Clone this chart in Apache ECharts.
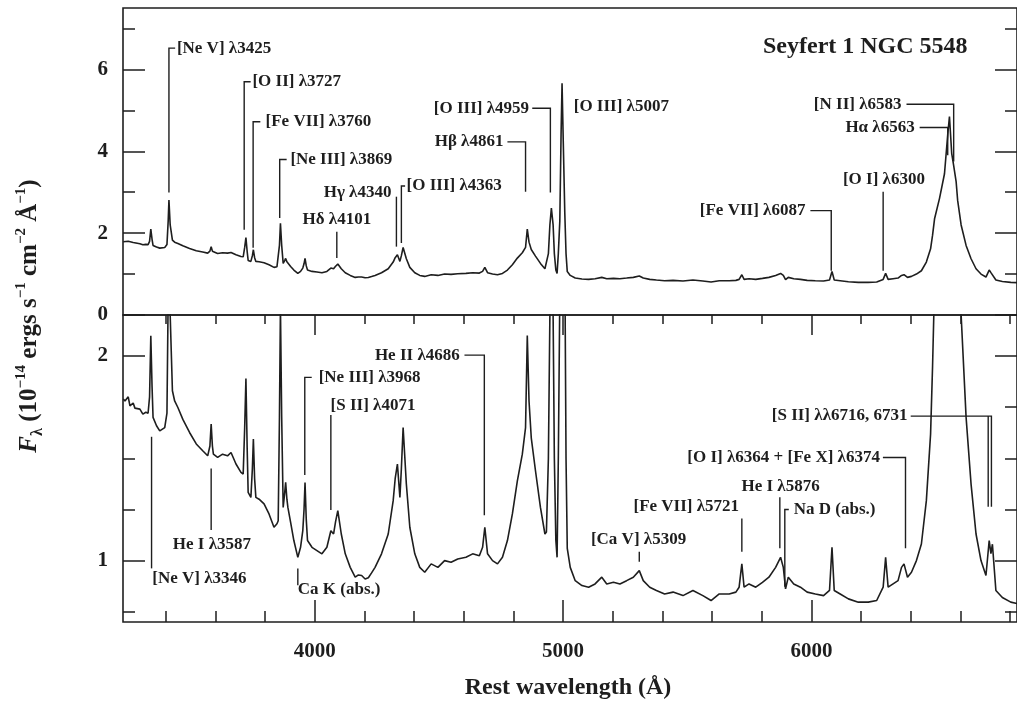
<!DOCTYPE html>
<html><head><meta charset="utf-8">
<script src="https://cdn.jsdelivr.net/npm/echarts@6/dist/echarts.min.js"></script>
<style>html,body{margin:0;padding:0;background:#fff}#c{width:1017px;height:703px}</style>
</head><body><div id="c"></div>
<script>
// Rest wavelength (Å) and F_lambda (1e-14 erg s^-1 cm^-2 Å^-1)
const wavelength = [
3229,3236,3249,3256,3269,3276,3296,3308,3320,3329,
3335,3340,3345,3349,3363,3376,3383,3396,3405,3410,
3413,3418,3427,3436,3449,3469,3496,3523,3549,3569,
3578,3583,3588,3592,3609,3629,3649,3663,3683,3703,
3712,3718,3723,3728,3732,3743,3749,3753,3758,3763,
3776,3796,3816,3836,3848,3853,3858,3862,3867,3873,
3879,3883,3888,3892,3903,3916,3932,3943,3952,3957,
3961,3966,3971,3989,4009,4029,4049,4065,4076,4084,
4093,4107,4123,4143,4163,4176,4189,4203,4216,4229,
4243,4269,4296,4316,4324,4333,4343,4349,4356,4369,
4383,4403,4423,4443,4469,4496,4523,4549,4576,4609,
4636,4663,4676,4685,4696,4716,4736,4756,4776,4796,
4816,4836,4849,4856,4863,4872,4889,4909,4927,4933,
4941,4947,4953,4960,4965,4971,4976,4981,4987,4992,
4996,5001,5007,5012,5017,5029,5049,5076,5103,5129,
5156,5176,5203,5229,5256,5283,5307,5323,5349,5376,
5409,5443,5483,5523,5563,5596,5629,5669,5696,5709,
5720,5729,5749,5776,5803,5829,5856,5876,5887,5896,
5907,5929,5956,5983,6016,6049,6073,6083,6092,6116,
6149,6189,6229,6263,6289,6299,6309,6329,6349,6363,
6373,6387,6403,6423,6443,6463,6480,6488,6496,6516,
6536,6549,6556,6565,6573,6583,6589,6603,6623,6643,
6663,6683,6703,6716,6723,6729,6743,6769,6803,6828];
const flux = [
1.79,1.78,1.80,1.756,1.77,1.745,1.74,1.716,1.725,1.72,
1.80,2.098,1.85,1.70,1.659,1.634,1.63,1.65,1.72,2.3,
2.81,2.2,1.83,1.78,1.748,1.69,1.626,1.57,1.537,1.512,
1.56,1.667,1.56,1.52,1.504,1.52,1.512,1.528,1.472,1.431,
1.423,1.65,1.89,1.55,1.333,1.309,1.45,1.594,1.4,1.309,
1.30,1.277,1.228,1.163,1.18,1.195,1.7,2.24,1.7,1.26,
1.33,1.382,1.30,1.26,1.187,1.098,1.016,1.065,1.146,1.25,
1.382,1.2,1.098,1.065,1.049,1.033,1.065,1.146,1.13,1.19,
1.244,1.13,1.033,0.967,0.919,0.93,0.927,0.91,0.916,0.94,
0.967,1.033,1.13,1.293,1.40,1.472,1.309,1.45,1.65,1.374,
1.163,1.033,0.967,0.943,0.984,0.967,1.0,0.992,1.008,1.016,
1.033,1.024,1.065,1.163,1.033,1.0,0.984,1.016,1.098,1.228,
1.39,1.52,1.65,2.1,1.78,1.60,1.439,1.26,1.13,1.14,
1.5,2.2,2.61,2.2,1.5,1.1,1.016,1.5,2.3,4.4,
5.66,4.2,2.5,1.5,1.06,0.967,0.902,0.878,0.87,0.886,
0.919,0.886,0.894,0.886,0.902,0.919,0.951,0.902,0.87,0.854,
0.837,0.846,0.829,0.854,0.829,0.805,0.837,0.837,0.846,0.87,
0.984,0.87,0.886,0.87,0.894,0.919,0.967,1.016,0.967,0.862,
0.919,0.886,0.87,0.846,0.837,0.829,0.854,1.065,0.854,0.837,
0.813,0.797,0.797,0.805,0.87,1.016,0.87,0.886,0.902,0.967,
0.984,0.919,0.943,1.0,1.081,1.293,1.618,1.95,2.35,2.85,
3.45,4.4,4.85,3.95,3.65,3.25,2.8,2.2,1.70,1.374,
1.13,1.0,0.927,1.098,1.034,1.08,0.854,0.82,0.797,0.79];

const xRange = [3228, 6828];
const topRange = [0, 7.5];
const bottomRange = [0.7, 2.2];
const xMajorTicks = [4000, 5000, 6000];
const xMinorTicks = [3400,3600,3800,4200,4400,4600,4800,5200,5400,5600,5800,6200,6400,6600,6800];
const topMajorTicks = [0, 2, 4, 6];
const topMinorTicks = [1, 3, 5, 7];
const bottomMajorTicks = [1, 2];
const bottomMinorTicksLeft = [0.75, 1.25, 1.5];
const bottomMinorTicksRight = [0.75, 1.25, 1.5, 1.75];

// line identifications: label text, label anchor (λ, flux), leader line paths in data units
const topLines = [
  {text:'[Ne V] λ3425', tx:3445, ty:6.52, align:'left', path:[[[3438,6.52],[3413,6.52],[3413,2.99]]]},
  {text:'[O II] λ3727', tx:3749, ty:5.70, align:'left', path:[[[3742,5.70],[3716,5.70],[3716,2.08]]]},
  {text:'[Fe VII] λ3760', tx:3802, ty:4.72, align:'left', path:[[[3781,4.72],[3752,4.72],[3752,1.64]]]},
  {text:'[Ne III] λ3869', tx:3902, ty:3.80, align:'left', path:[[[3887,3.80],[3859,3.80],[3859,2.37]]]},
  {text:'Hδ λ4101', tx:4089, ty:2.32, align:'center', path:[[[4089,2.035],[4089,1.39]]]},
  {text:'Hγ λ4340', tx:4309, ty:2.98, align:'right', path:[[[4329,2.89],[4329,1.67]]]},
  {text:'[O III] λ4363', tx:4370, ty:3.15, align:'left', path:[[[4364,3.15],[4349,3.15],[4349,1.76]]]},
  {text:'Hβ λ4861', tx:4760, ty:4.23, align:'right', path:[[[4776,4.23],[4849,4.23],[4849,3.01]]]},
  {text:'[O III] λ4959', tx:4863, ty:5.05, align:'right', path:[[[4876,5.05],[4949,5.05],[4949,2.99]]]},
  {text:'[O III] λ5007', tx:5043, ty:5.09, align:'left', path:[]},
  {text:'[Fe VII] λ6087', tx:5976, ty:2.55, align:'right', path:[[[5996,2.55],[6080,2.55],[6080,1.08]]]},
  {text:'[O I] λ6300', tx:6292, ty:3.30, align:'center', path:[[[6289,3.01],[6289,1.08]]]},
  {text:'[N II] λ6583', tx:6363, ty:5.13, align:'right', path:[[[6383,5.15],[6573,5.15],[6573,3.75]]]},
  {text:'Hα λ6563', tx:6416, ty:4.58, align:'right', path:[[[6436,4.58],[6549,4.58],[6549,3.9]]]}
];
const bottomLines = [
  {text:'[Ne V] λ3346', tx:3346, ty:0.913, align:'left', path:[[[3343,1.605],[3343,0.962]]]},
  {text:'He I λ3587', tx:3586, ty:1.076, align:'center', path:[[[3583,1.450],[3583,1.149]]]},
  {text:'[Ne III] λ3968', tx:4016, ty:1.895, align:'left', path:[[[3988,1.895],[3960,1.895],[3960,1.418]]]},
  {text:'[S II] λ4071', tx:4064, ty:1.755, align:'left', path:[[[4065,1.711],[4065,1.247]]]},
  {text:'Ca K (abs.)', tx:3932, ty:0.856, align:'left', path:[[[3932,0.962],[3932,0.880]]]},
  {text:'He II λ4686', tx:4584, ty:2.004, align:'right', path:[[[4603,2.004],[4683,2.004],[4683,1.222]]]},
  {text:'[Ca V] λ5309', tx:5304, ty:1.104, align:'center', path:[[[5307,1.043],[5307,0.994]]]},
  {text:'[Fe VII] λ5721', tx:5709, ty:1.266, align:'right', path:[[[5720,1.206],[5720,1.043]]]},
  {text:'He I λ5876', tx:5876, ty:1.361, align:'center', path:[[[5873,1.309],[5873,1.060]]]},
  {text:'Na D (abs.)', tx:5929, ty:1.250, align:'left', path:[[[5909,1.250],[5893,1.250],[5893,0.872]]]},
  {text:'[O I] λ6364 + [Fe X] λ6374', tx:6276, ty:1.504, align:'right', path:[[[6288,1.504],[6379,1.504],[6379,1.060]]]},
  {text:'[S II] λλ6716, 6731', tx:6387, ty:1.706, align:'right', path:[[[6400,1.706],[6725,1.706],[6725,1.263]],[[6712,1.706],[6712,1.263]]]}
];

const INK = '#1e1e1e';
const SERIF = '"Liberation Serif","DejaVu Serif",serif';
const spectrum = wavelength.map((w, i) => [w, flux[i]]);

function xAxisDef(gridIndex, position, ticks, len, labels) {
  return {
    type: 'value', gridIndex, position, min: xRange[0], max: xRange[1],
    axisLine: {show: false}, splitLine: {show: false},
    axisTick: {show: true, inside: true, length: len, customValues: ticks, lineStyle: {color: INK, width: 1.5}},
    axisLabel: labels ? {show: true, customValues: labels, margin: 19, color: INK,
      formatter: v => String(v),
      fontFamily: SERIF, fontWeight: 'bold', fontSize: 21} : {show: false}
  };
}
function yAxisDef(gridIndex, position, range, ticks, len, labels) {
  return {
    type: 'value', gridIndex, position, min: range[0], max: range[1],
    axisLine: {show: false}, splitLine: {show: false},
    axisTick: {show: true, inside: true, length: len, customValues: ticks, lineStyle: {color: INK, width: 1.5}},
    axisLabel: labels ? {show: true, customValues: labels, margin: 15, color: INK,
      formatter: v => String(v),
      fontFamily: SERIF, fontWeight: 'bold', fontSize: 21} : {show: false}
  };
}
function annotRenderer(list) {
  return function (params, api) {
    const a = list[params.dataIndex];
    const children = [];
    a.path.forEach(seg => {
      children.push({type: 'polyline', shape: {points: seg.map(p => api.coord(p))},
        style: {stroke: INK, lineWidth: 1.4, fill: null}});
    });
    const tp = api.coord([a.tx, a.ty]);
    children.push({type: 'text', x: tp[0], y: tp[1],
      style: {text: a.text, fill: INK, fontFamily: SERIF, fontWeight: 'bold', fontSize: 17,
        align: a.align, verticalAlign: 'middle'}});
    return {type: 'group', children};
  };
}

const chart = echarts.init(document.getElementById('c'), null, {renderer: 'canvas'});
chart.setOption({
  animation: false,
  backgroundColor: '#ffffff',
  grid: [
    {left: 123, top: 8, width: 900, height: 307, show: true, borderColor: INK, borderWidth: 1.6},
    {left: 123, top: 315, width: 900, height: 307, show: true, borderColor: INK, borderWidth: 1.6}
  ],
  xAxis: [
    xAxisDef(0, 'top', xMajorTicks, 20, null),
    xAxisDef(0, 'top', xMinorTicks, 9, null),
    xAxisDef(1, 'bottom', xMajorTicks, 22, xMajorTicks),
    xAxisDef(1, 'bottom', xMinorTicks, 11, null)
  ],
  yAxis: [
    yAxisDef(0, 'left', topRange, topMajorTicks, 22, topMajorTicks),
    yAxisDef(0, 'left', topRange, topMinorTicks, 12, null),
    yAxisDef(0, 'right', topRange, topMajorTicks, 22, null),
    yAxisDef(0, 'right', topRange, topMinorTicks, 12, null),
    yAxisDef(1, 'left', bottomRange, bottomMajorTicks, 22, bottomMajorTicks),
    yAxisDef(1, 'left', bottomRange, bottomMinorTicksLeft, 12, null),
    yAxisDef(1, 'right', bottomRange, bottomMajorTicks, 22, null),
    yAxisDef(1, 'right', bottomRange, bottomMinorTicksRight, 12, null)
  ],
  series: [
    {type: 'line', xAxisIndex: 0, yAxisIndex: 0, data: spectrum, showSymbol: false, clip: true,
      lineStyle: {color: INK, width: 1.6}},
    {type: 'line', xAxisIndex: 2, yAxisIndex: 4, data: spectrum, showSymbol: false, clip: true,
      lineStyle: {color: INK, width: 1.6}},
    {type: 'custom', xAxisIndex: 0, yAxisIndex: 0, data: topLines.map(a => [a.tx, a.ty]),
      renderItem: annotRenderer(topLines), clip: false, z: 5},
    {type: 'custom', xAxisIndex: 2, yAxisIndex: 4, data: bottomLines.map(a => [a.tx, a.ty]),
      renderItem: annotRenderer(bottomLines), clip: false, z: 5}
  ],
  graphic: [
    {type: 'text', x: 763, y: 47, style: {text: 'Seyfert 1 NGC 5548', fill: INK, fontFamily: SERIF,
      fontWeight: 'bold', fontSize: 24, align: 'left', verticalAlign: 'middle'}},
    {type: 'text', x: 568, y: 688, style: {text: 'Rest wavelength (Å)', fill: INK, fontFamily: SERIF,
      fontWeight: 'bold', fontSize: 24, align: 'center', verticalAlign: 'middle'}},
    {type: 'text', x: 30, y: 316, rotation: Math.PI / 2, style: {
      text: '{fi|F}{sub|λ}{n| (10}{sup|−14}{n| ergs s}{sup|−1}{n| cm}{sup|−2}{n| Å}{sup|−1}{n|)}',
      align: 'center', verticalAlign: 'middle', fill: INK,
      rich: {
        n: {fontFamily: SERIF, fontWeight: 'bold', fontSize: 25, lineHeight: 32, fill: INK},
        fi: {fontFamily: SERIF, fontWeight: 'bold', fontStyle: 'italic', fontSize: 25, lineHeight: 32, fill: INK},
        sup: {fontFamily: SERIF, fontWeight: 'bold', fontSize: 15, lineHeight: 15, verticalAlign: 'top', fill: INK},
        sub: {fontFamily: SERIF, fontWeight: 'bold', fontSize: 16, lineHeight: 16, verticalAlign: 'bottom', fill: INK}
      }}}
  ]
});
</script></body></html>
